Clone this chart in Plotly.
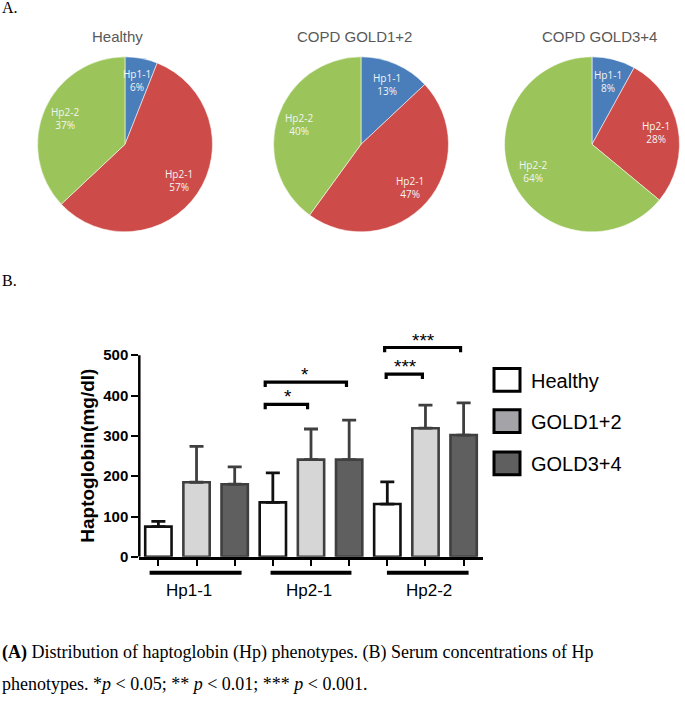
import plotly.graph_objects as go
import math

W, H = 685, 701

# ---------------- Data ----------------
pie_groups = ["Healthy", "COPD GOLD1+2", "COPD GOLD3+4"]
phenotypes = ["Hp1-1", "Hp2-1", "Hp2-2"]
pie_healthy = [6, 57, 37]
pie_gold12 = [13, 47, 40]
pie_gold34 = [8, 28, 64]
pie_colors = ["#4a7ebb", "#cd4c49", "#9bc55a"]

bar_groups = ["Hp1-1", "Hp2-1", "Hp2-2"]
series_names = ["Healthy", "GOLD1+2", "GOLD3+4"]
healthy_mean = [75, 135, 131]
healthy_sd = [13, 73, 55]
gold12_mean = [185, 241, 319]
gold12_sd = [89, 76, 57]
gold34_mean = [180, 241, 302]
gold34_sd = [43, 98, 80]
y_ticks = [0, 100, 200, 300, 400, 500]

# significance brackets: (x_start, x_end, y_level, label)
sig_x0 = [2.80, 2.80, 5.97, 5.93]
sig_x1 = [3.91, 4.93, 6.92, 7.92]
sig_y = [378, 433, 453, 519]
sig_label = ["*", "*", "***", "***"]
sig_label_x = [3.40, 3.85, 6.47, 6.94]

def px(x):
    return x / W

def py(y):
    return 1 - y / H

fig = go.Figure()

# ---------------- Pies ----------------
pie_centers_x = [125, 361, 592]
pie_center_y = 146
R = 88.5
pie_title_x = [117, 354, 599]
annotations = []
shapes = []

for i, (name, vals) in enumerate(zip(pie_groups, [pie_healthy, pie_gold12, pie_gold34])):
    cx = pie_centers_x[i]
    fig.add_trace(go.Pie(
        labels=phenotypes, values=vals, sort=False, direction="clockwise",
        rotation=0, textinfo="none", hoverinfo="label+percent",
        marker=dict(colors=pie_colors, line=dict(color="rgba(255,255,255,0.55)", width=1)),
        domain=dict(x=[px(cx - R), px(cx + R)], y=[py(pie_center_y + R), py(pie_center_y - R)]),
        showlegend=False,
    ))
    annotations.append(dict(
        x=px(pie_title_x[i]), y=py(37), xref="paper", yref="paper", text=name,
        showarrow=False, xanchor="center", yanchor="middle",
        font=dict(family="Liberation Sans", size=15, color="#595959")))
    total = sum(vals)
    cum = 0
    for lab, v in zip(phenotypes, vals):
        th = 2 * math.pi * (cum + v / 2) / total
        lx = cx + 0.74 * R * math.sin(th)
        ly = pie_center_y - 0.74 * R * math.cos(th)
        annotations.append(dict(
            x=px(lx), y=py(ly), xref="paper", yref="paper",
            text=f"{lab}<br>{v}%", showarrow=False, xanchor="center", yanchor="middle",
            font=dict(family="Open Sans", size=10, color="#f4f4f4")))
        cum += v

# ---------------- Bars ----------------
n_series = len(series_names)
fills = ["#ffffff", "#d6d6d6", "#5f5f5f"]
edges = ["#111111", "#3f3f3f", "#3f3f3f"]
err_cols = ["#111111", "#3f3f3f", "#3f3f3f"]
means = [healthy_mean, gold12_mean, gold34_mean]
sds = [healthy_sd, gold12_sd, gold34_sd]
for s in range(n_series):
    xs = [g * n_series + s for g in range(len(bar_groups))]
    fig.add_trace(go.Bar(
        x=xs, y=means[s], width=0.69, name=series_names[s],
        marker=dict(color=fills[s], line=dict(color=edges[s], width=2.6)),
        error_y=dict(type="data", symmetric=False, array=sds[s],
                     arrayminus=[0] * len(sds[s]), color=err_cols[s],
                     thickness=2.8, width=7),
        xaxis="x", yaxis="y", showlegend=False,
    ))

x_dom = [px(139.3), px(482.7)]
y_dom = [py(563.3), py(334.8)]

# y axis line from 0 to 500
shapes.append(dict(type="line", xref="x domain", yref="y", x0=0, x1=0, y0=0, y1=max(y_ticks),
                   line=dict(color="black", width=2.5)))

# group underlines and labels
under_x0 = [-0.23, 2.94, 5.99]
under_x1 = [2.18, 5.06, 8.13]
label_cx = [189, 309, 429]
for g, lab in enumerate(bar_groups):
    shapes.append(dict(type="line", xref="x", yref="paper", x0=under_x0[g], x1=under_x1[g],
                       y0=py(579.3), y1=py(579.3), line=dict(color="black", width=4)))
    annotations.append(dict(x=px(label_cx[g]), y=py(597), xref="paper", yref="paper",
                            text=lab, showarrow=False, xanchor="center", yanchor="middle",
                            font=dict(family="Liberation Sans", size=17, color="black")))

# significance brackets
for x0, x1, yv, lab, lx in zip(sig_x0, sig_x1, sig_y, sig_label, sig_label_x):
    shapes.append(dict(type="path", xref="x", yref="y",
                       path=f"M {x0},{yv - 12} L {x0},{yv} L {x1},{yv} L {x1},{yv - 12}",
                       line=dict(color="black", width=3.2)))
    annotations.append(dict(x=lx, y=yv, xref="x", yref="y", text=lab, showarrow=False,
                            xanchor="center", yanchor="bottom", yshift=-5,
                            font=dict(family="Liberation Sans", size=19, color="black")))

# y-axis title
annotations.append(dict(x=px(88), y=py(461), xref="paper", yref="paper",
                        text="<b>Haptoglobin(mg/dl)</b>", textangle=-90, showarrow=False,
                        xanchor="center", yanchor="middle",
                        font=dict(family="Liberation Sans", size=19, color="black")))

# manual legend
leg_fill = ["#ffffff", "#a3a3a8", "#5f5f5f"]
leg_y = [384.3, 426.0, 468.7]
for s in range(n_series):
    shapes.append(dict(type="rect", xref="paper", yref="paper",
                       x0=px(494), x1=px(520), y0=py(leg_y[s] + 11.5), y1=py(leg_y[s] - 11.5),
                       fillcolor=leg_fill[s], line=dict(color="black", width=3)))
    annotations.append(dict(x=px(529), y=py(leg_y[s] + 1), xref="paper", yref="paper",
                            text=series_names[s], showarrow=False, xanchor="left", yanchor="middle",
                            font=dict(family="Liberation Sans", size=20, color="black")))

# panel letters and caption
annotations.append(dict(x=0, y=py(8), xref="paper", yref="paper", text="A.", showarrow=False,
                        xanchor="left", yanchor="middle",
                        font=dict(family="Liberation Serif", size=16, color="black")))
annotations.append(dict(x=0, y=py(284), xref="paper", yref="paper", text="B.", showarrow=False,
                        xanchor="left", yanchor="middle",
                        font=dict(family="Liberation Serif", size=16, color="black")))
annotations.append(dict(x=0, y=py(660), xref="paper", yref="paper",
                        text="<b>(A)</b> Distribution of haptoglobin (Hp) phenotypes. (B) Serum concentrations of Hp",
                        showarrow=False, xanchor="left", yanchor="middle",
                        font=dict(family="Liberation Serif", size=18, color="black")))
annotations.append(dict(x=0, y=py(692), xref="paper", yref="paper",
                        text="phenotypes. *<i>p</i> &lt; 0.05; ** <i>p</i> &lt; 0.01; *** <i>p</i> &lt; 0.001.",
                        showarrow=False, xanchor="left", yanchor="middle",
                        font=dict(family="Liberation Serif", size=18, color="black")))

all_x = [g * n_series + s for g in range(len(bar_groups)) for s in range(n_series)]
fig.update_layout(
    width=W, height=H, autosize=False,
    margin=dict(l=0, r=0, t=0, b=0),
    paper_bgcolor="white", plot_bgcolor="white",
    barmode="overlay",
    xaxis=dict(domain=x_dom, range=[-0.5, 8.5], showline=True, linecolor="black", linewidth=2.5,
               ticks="outside", tickvals=all_x, ticklen=6, tickwidth=2.2, tickcolor="black",
               showticklabels=False, showgrid=False, zeroline=False, fixedrange=True),
    yaxis=dict(domain=y_dom, range=[0, 560], showline=False, tickvals=y_ticks,
               ticks="outside", ticklen=7, tickwidth=2.2, tickcolor="black",
               tickfont=dict(family="Liberation Sans", size=15, color="black", weight="bold"),
               showgrid=False, zeroline=False, fixedrange=True),
    shapes=shapes, annotations=annotations, showlegend=False,
)

fig.write_html("out.html", config={"displayModeBar": False},
               post_script="document.body.style.margin='0';")
